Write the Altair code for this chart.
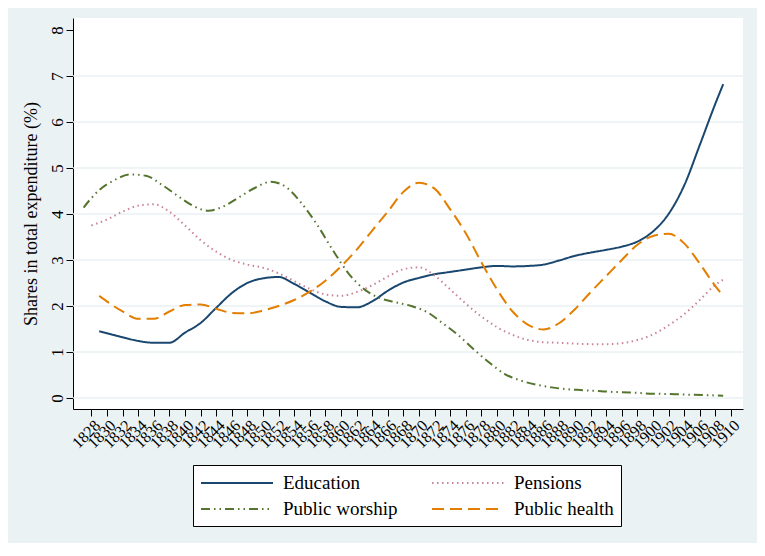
import pandas as pd
import altair as alt

# values (share of total expenditure, %)
edu_years = [1829, 1832, 1834, 1836, 1838, 1840, 1842, 1844, 1846, 1848, 1850, 1852, 1854,
             1856, 1858, 1860, 1862, 1864, 1866, 1868, 1870, 1872, 1874, 1876, 1878, 1880,
             1882, 1884, 1886, 1888, 1890, 1892, 1894, 1896, 1898, 1900, 1902, 1904, 1906,
             1908, 1909]
edu_share = [1.45, 1.32, 1.24, 1.20, 1.20, 1.42, 1.63, 1.96, 2.28, 2.50, 2.60, 2.63, 2.48,
             2.29, 2.10, 1.98, 1.97, 2.10, 2.33, 2.51, 2.61, 2.69, 2.74, 2.79, 2.84, 2.87,
             2.86, 2.87, 2.90, 2.99, 3.09, 3.16, 3.22, 3.29, 3.40, 3.62, 4.00, 4.62, 5.50,
             6.40, 6.82]

pen_years = [1828, 1830, 1832, 1834, 1836, 1838, 1840, 1842, 1844, 1846, 1848, 1850, 1852,
             1854, 1856, 1858, 1860, 1862, 1864, 1866, 1868, 1870, 1872, 1874, 1876, 1878,
             1880, 1882, 1884, 1886, 1888, 1890, 1892, 1894, 1896, 1898, 1900, 1902, 1904,
             1906, 1908, 1909]
pen_share = [3.75, 3.88, 4.05, 4.18, 4.21, 4.05, 3.75, 3.43, 3.18, 3.00, 2.90, 2.83, 2.71,
             2.54, 2.37, 2.25, 2.22, 2.30, 2.45, 2.64, 2.80, 2.84, 2.66, 2.36, 2.05, 1.77,
             1.54, 1.37, 1.26, 1.21, 1.20, 1.18, 1.17, 1.17, 1.19, 1.26, 1.38, 1.58, 1.82,
             2.13, 2.46, 2.57]

wor_years = [1827, 1829, 1831, 1833, 1835, 1837, 1839, 1841, 1843, 1845, 1847, 1849, 1851,
             1853, 1855, 1857, 1859, 1861, 1863, 1865, 1867, 1869, 1871, 1873, 1875, 1877,
             1879, 1881, 1883, 1885, 1887, 1889, 1891, 1893, 1895, 1897, 1899, 1901, 1903,
             1905, 1907, 1909]
wor_share = [4.14, 4.52, 4.74, 4.86, 4.83, 4.64, 4.40, 4.18, 4.07, 4.17, 4.37, 4.57, 4.70,
             4.58, 4.22, 3.75, 3.20, 2.70, 2.36, 2.17, 2.08, 2.00, 1.87, 1.63, 1.37, 1.06,
             0.77, 0.52, 0.38, 0.29, 0.23, 0.19, 0.17, 0.15, 0.13, 0.12, 0.10, 0.09, 0.08,
             0.07, 0.06, 0.05]

hea_years = [1829, 1832, 1834, 1836, 1838, 1840, 1842, 1844, 1846, 1848, 1850, 1852, 1854,
             1856, 1858, 1860, 1862, 1864, 1866, 1868, 1870, 1872, 1874, 1876, 1878, 1880,
             1882, 1884, 1886, 1888, 1890, 1892, 1894, 1896, 1898, 1900, 1902, 1904, 1906,
             1908, 1909]
hea_share = [2.22, 1.88, 1.72, 1.72, 1.88, 2.02, 2.03, 1.94, 1.85, 1.84, 1.90, 2.00, 2.13,
             2.31, 2.55, 2.86, 3.22, 3.64, 4.05, 4.48, 4.68, 4.55, 4.10, 3.58, 2.95, 2.36,
             1.88, 1.59, 1.49, 1.63, 1.93, 2.30, 2.65, 3.00, 3.33, 3.52, 3.57, 3.36, 2.92,
             2.43, 2.22]

# legend fills column by column: left column Education / Public worship
order = ["Education", "Public worship", "Pensions", "Public health"]
colors = ["#1a476f", "#55752f", "#c98495", "#e37e00"]
dashes = [[1, 0], [9, 4, 1.5, 4, 1.5, 4], [1.5, 3.5], [12, 6]]

frames = []
for name, yrs, vals in [("Education", edu_years, edu_share),
                        ("Pensions", pen_years, pen_share),
                        ("Public worship", wor_years, wor_share),
                        ("Public health", hea_years, hea_share)]:
    frames.append(pd.DataFrame({"year": yrs, "share": vals, "series": name}))
df = pd.concat(frames, ignore_index=True)

FONT = "'Liberation Serif', 'Times New Roman', 'DejaVu Serif', serif"
BG = "#eaf2f3"

x_scale = alt.Scale(domain=[1825.64, 1911.54], nice=False, zero=False)
y_scale = alt.Scale(domain=[-0.24, 8.26], nice=False, zero=False)

x_axis = alt.Axis(values=list(range(1828, 1911, 2)), format="d", labelAngle=-45,
                  labelFontSize=16, labelPadding=1, tickSize=7, grid=False,
                  labelOverlap=False, labelFont=FONT)
y_axis = alt.Axis(values=list(range(9)), labelAngle=270, labelAlign="center",
                  labelBaseline="bottom", labelFontSize=17, labelPadding=0,
                  tickSize=7, grid=False, titleFontSize=18, titlePadding=8,
                  labelFont=FONT, titleFont=FONT)

grid = alt.Chart(pd.DataFrame({"g": list(range(8))})).mark_rule(
    color=BG, strokeWidth=1.5
).encode(y=alt.Y("g:Q", scale=y_scale, axis=y_axis,
                 title="Shares in total expenditure (%)"))

lines = alt.Chart(df).mark_line(interpolate="monotone", strokeWidth=2).encode(
    x=alt.X("year:Q", scale=x_scale, title=None, axis=x_axis),
    y=alt.Y("share:Q", scale=y_scale, axis=y_axis,
            title="Shares in total expenditure (%)"),
    color=alt.Color("series:N", scale=alt.Scale(domain=order, range=colors),
                    legend=alt.Legend(title=None, orient="none", legendX=120, legendY=447,
                                      columns=2, columnPadding=30, rowPadding=5,
                                      padding=7, symbolType="M-1,0H6.2", symbolSize=400,
                                      symbolStrokeWidth=2, labelFontSize=19, labelOffset=61,
                                      labelFont=FONT, labelColor="black",
                                      fillColor="white", strokeColor="black")),
    strokeDash=alt.StrokeDash("series:N", scale=alt.Scale(domain=order, range=dashes)),
)

chart = (grid + lines).properties(
    width=670, height=391, autosize=alt.AutoSizeParams(type="none"),
    padding={"left": 65, "top": 10, "right": 14, "bottom": 134},
    background=BG,
).configure_view(stroke=None, fill="white").configure_axis(
    labelColor="black", titleColor="black",
    titleFontWeight="normal", domainColor="black", tickColor="black",
    domainWidth=1, tickWidth=1
)

chart.save("out.html", embed_options={"renderer": "svg", "actions": False})
